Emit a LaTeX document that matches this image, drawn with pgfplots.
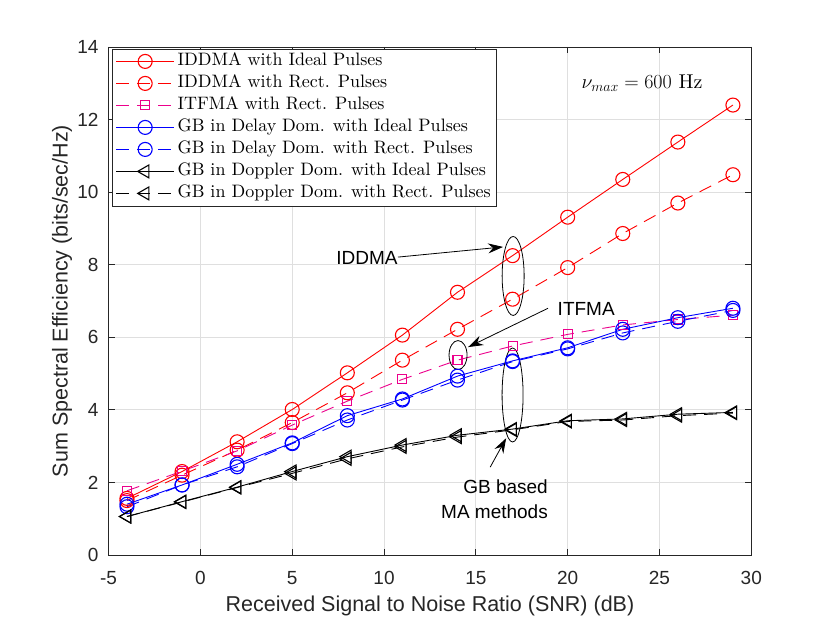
\RequirePackage{fix-cm}
\documentclass[border=0pt]{standalone}
\usepackage{fontspec}
\setsansfont{Liberation Sans}
\newfontfamily\lmten{lmroman10-regular.otf}
\usepackage{pgfplots}
\usepackage{pgfplotstable}
\pgfplotsset{compat=1.18}
\usetikzlibrary{arrows.meta}

\definecolor{axgray}{RGB}{38,38,38}
\definecolor{gridgray}{RGB}{223,223,223}

\pgfplotstableread{
x    iddmaI iddmaR itfma  gbdI  gbdR  gbpI  gbpR
-4   1.56   1.50   1.77   1.40  1.33  1.06  1.06
-1   2.30   2.20   2.31   1.93  1.93  1.47  1.46
2    3.12   2.89   2.87   2.50  2.43  1.87  1.86
5    4.01   3.65   3.58   3.09  3.07  2.30  2.25
8    5.02   4.47   4.24   3.84  3.72  2.71  2.65
11   6.06   5.37   4.84   4.30  4.27  3.03  2.98
14   7.24   6.22   5.37   4.93  4.82  3.30  3.25
17   8.25   7.05   5.76   5.35  5.33  3.47  3.45
20   9.31   7.92   6.08   5.71  5.68  3.70  3.68
23   10.35  8.86   6.34   6.22  6.12  3.75  3.72
26   11.38  9.70   6.49   6.54  6.44  3.88  3.84
29   12.40  10.48  6.61   6.80  6.74  3.93  3.91
}\datatable

\newcommand{\annfont}{\sffamily\fontsize{19bp}{25bp}\selectfont}
\newcommand{\legfont}{\lmten\fontsize{18bp}{21bp}\selectfont}
\newcommand{\nufont}{\lmten\fontsize{20bp}{23bp}\selectfont}
\tikzset{dsh/.style={dash pattern=on 13bp off 8bp}}

\begin{document}
\begin{tikzpicture}
\useasboundingbox (0bp,0bp) rectangle (830bp,623bp);
\begin{axis}[
  at={(108.6bp,68bp)}, anchor=south west,
  scale only axis, width=642.7bp, height=508bp,
  xmin=-5, xmax=30, ymin=0, ymax=14,
  xtick={-5,0,5,10,15,20,25,30},
  ytick={0,2,4,6,8,10,12,14},
  xticklabels={-5,0,5,10,15,20,25,30},
  yticklabels={0,2,4,6,8,10,12,14},
  tick pos=both, tick align=inside,
  major tick length=6.5bp,
  axis line style={axgray, line width=0.8bp},
  tick style={axgray, line width=0.8bp},
  grid=major,
  major grid style={gridgray, line width=0.8bp},
  ticklabel style={font=\sffamily\fontsize{19bp}{22bp}\selectfont, text=axgray},
  xticklabel style={anchor=north, inner sep=0pt, yshift=-16bp},
  yticklabel style={anchor=east, inner sep=0pt, xshift=-10bp},
  label style={font=\sffamily\fontsize{21.5bp}{24bp}\selectfont, text=axgray},
  xlabel={Received Signal to Noise Ratio (SNR) (dB)},
  ylabel={Sum Spectral Efficiency (bits/sec/Hz)},
  xlabel style={at={(axis description cs:0.5,-0.1004)}, anchor=center},
  ylabel style={at={(axis description cs:-0.0725,0.5)}, anchor=center},
  legend image code/.code={\draw[mark repeat=2,mark phase=2,#1] plot coordinates {(0bp,0bp) (29bp,0bp) (58bp,0bp)};},
  legend style={at={(0.0058,0.997)}, anchor=north west, draw=axgray, line width=0.8bp, fill=white,
    font=\legfont, inner xsep=3bp, inner ysep=1.5bp, row sep=0pt,
    nodes={text height=13bp, text depth=4bp, inner ysep=2.5bp, inner xsep=3bp}},
  legend cell align=left,
  clip=false,
]
\addplot[color=red, line width=0.9bp, mark=o, mark size=7bp, mark options={solid, line width=1.1bp}]
  table[x=x, y=iddmaI] {\datatable};
\addlegendentry{IDDMA with Ideal Pulses}
\addplot[color=red, line width=0.9bp, dsh, mark=o, mark size=7bp, mark options={solid, line width=1.1bp}]
  table[x=x, y=iddmaR] {\datatable};
\addlegendentry{IDDMA with Rect. Pulses}
\addplot[color=magenta, line width=0.9bp, dsh, mark=square, mark size=4.5bp, mark options={solid, line width=1.1bp}]
  table[x=x, y=itfma] {\datatable};
\addlegendentry{ITFMA with Rect. Pulses}
\addplot[color=blue, line width=0.9bp, mark=o, mark size=7bp, mark options={solid, line width=1.1bp}]
  table[x=x, y=gbdI] {\datatable};
\addlegendentry{GB in Delay Dom. with Ideal Pulses}
\addplot[color=blue, line width=0.9bp, dsh, mark=o, mark size=7bp, mark options={solid, line width=1.1bp}]
  table[x=x, y=gbdR] {\datatable};
\addlegendentry{GB in Delay Dom. with Rect. Pulses}
\addplot[color=black, line width=0.9bp, mark=triangle, mark size=7.5bp, mark options={solid, rotate=90, line width=1.1bp}]
  table[x=x, y=gbpI] {\datatable};
\addlegendentry{GB in Doppler Dom. with Ideal Pulses}
\addplot[color=black, line width=0.9bp, dsh, mark=triangle, mark size=7.5bp, mark options={solid, rotate=90, line width=1.1bp}]
  table[x=x, y=gbpR] {\datatable};
\addlegendentry{GB in Doppler Dom. with Rect. Pulses}

% annotations
\draw[black, line width=0.8bp] (axis cs:17.03,7.69) ellipse [x radius=11bp, y radius=39.5bp];
\draw[black, line width=0.8bp] (axis cs:14.03,5.51) ellipse [x radius=9bp, y radius=14.5bp];
\draw[black, line width=0.8bp] (axis cs:17.0,4.41) ellipse [x radius=10.5bp, y radius=47bp];
\draw[black, line width=0.8bp, -{Stealth[length=15bp,width=10bp,inset=5bp]}] (axis cs:10.76,8.21) -- (axis cs:16.48,8.49);
\draw[black, line width=0.8bp, -{Stealth[length=15bp,width=10bp,inset=5bp]}] (axis cs:18.93,6.80) -- (axis cs:14.58,5.73);
\draw[black, line width=0.8bp, -{Stealth[length=15bp,width=10bp,inset=5bp]}] (axis cs:15.78,2.42) -- (axis cs:16.65,3.22);
\node[font=\annfont, inner sep=0pt] at (axis cs:9.07,8.18) {IDDMA};
\node[font=\annfont, inner sep=0pt] at (axis cs:21.01,6.78) {ITFMA};
\node[font=\annfont, inner sep=0pt, anchor=east, align=right] at (axis cs:18.93,1.53) {GB based\\MA methods};
\node[font=\nufont, inner sep=0pt] at (axis cs:24.05,13.0) {$\nu_{max}=600$ Hz};
\end{axis}
\end{tikzpicture}
\end{document}
